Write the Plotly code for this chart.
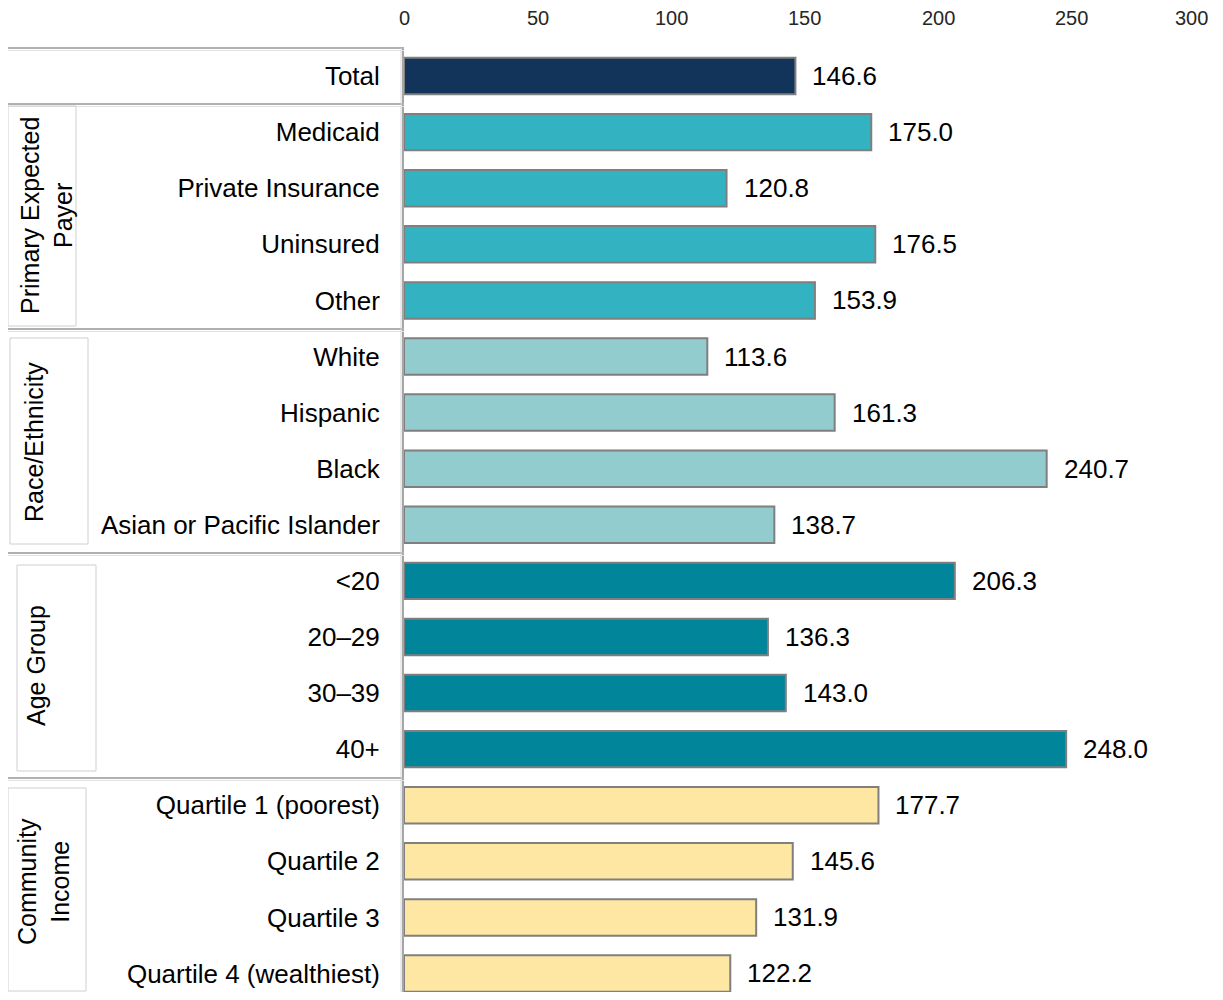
import plotly.graph_objects as go

# ---- data ----
categories = ["Total",
              "Medicaid", "Private Insurance", "Uninsured", "Other",
              "White", "Hispanic", "Black", "Asian or Pacific Islander",
              "<20", "20–29", "30–39", "40+",
              "Quartile 1 (poorest)", "Quartile 2", "Quartile 3", "Quartile 4 (wealthiest)"]
values = [146.6,
          175.0, 120.8, 176.5, 153.9,
          113.6, 161.3, 240.7, 138.7,
          206.3, 136.3, 143.0, 248.0,
          177.7, 145.6, 131.9, 122.2]
groups = ["Total",
          "Payer", "Payer", "Payer", "Payer",
          "Race", "Race", "Race", "Race",
          "Age", "Age", "Age", "Age",
          "Income", "Income", "Income", "Income"]
group_labels = {"Payer": "Primary Expected<br>Payer",
                "Race": "Race/Ethnicity",
                "Age": "Age Group",
                "Income": "Community<br>Income"}
x_ticks = [0, 50, 100, 150, 200, 250, 300]

group_colors = {"Total": "#12335a", "Payer": "#33b2c1", "Race": "#93cccf",
                "Age": "#00859b", "Income": "#fee6a3"}

# page body has an 8px margin; work in page pixels and convert
OFF = 8
W, H = 1223 - OFF, 1000 - 2 * OFF
L, R, T, B = 404 - OFF, 18, 48 - OFF, 0
PW, PH = W - L - R, H - T - B


def px(x):
    return (x - OFF - L) / PW


def py(y):
    return 1 - (y - OFF - T) / PH


FONT = "Liberation Sans, Arial, sans-serif"
TICKFONT = dict(family=FONT, size=20, color="#262626")

fig = go.Figure()
fig.add_trace(go.Bar(
    x=values, y=categories, orientation="h",
    marker=dict(color=[group_colors[g] for g in groups],
                line=dict(color="#7f7f7f", width=2)),
    width=0.65, showlegend=False, hoverinfo="x+y",
))

annotations = []
for c, v in zip(categories, values):
    annotations.append(dict(x=v, y=c, xref="x", yref="y", text=f"{v:.1f}",
                            showarrow=False, xanchor="left", xshift=15,
                            font=dict(family=FONT, size=26, color="#000000")))

# top axis tick labels placed on the x scale (last one kept inside the page edge)
for t in x_ticks:
    last = t == x_ticks[-1]
    annotations.append(dict(x=t, y=py(18), xref="x", yref="paper",
                            text=str(t), showarrow=False,
                            xanchor="right" if last else "center",
                            xshift=5 if last else 0,
                            yanchor="middle", font=TICKFONT))

# group label positions (page pixel centres)
label_pos = {"Payer": (47, 216), "Race": (34, 442), "Age": (36, 666), "Income": (43, 882)}
for g, (cx, cy) in label_pos.items():
    annotations.append(dict(x=px(cx), y=py(cy), xref="paper", yref="paper",
                            text=group_labels[g], showarrow=False, textangle=-90,
                            xanchor="center", yanchor="middle",
                            font=dict(family=FONT, size=25, color="#000000")))

shapes = []
# separator lines
for yy in [48, 104, 329, 553, 778]:
    shapes.append(dict(type="line", xref="paper", yref="paper",
                       x0=px(7), x1=px(404), y0=py(yy), y1=py(yy),
                       line=dict(color="#b0b0b0", width=2)))
    shapes.append(dict(type="line", xref="paper", yref="paper",
                       x0=px(7), x1=px(404), y0=py(yy + 2.5), y1=py(yy + 2.5),
                       line=dict(color="#e2e2e2", width=1)))
# right edge of the label panel
shapes.append(dict(type="line", xref="paper", yref="paper",
                   x0=px(401), x1=px(401), y0=py(48), y1=py(992),
                   line=dict(color="#d6d6d6", width=1)))
# inner group label boxes
for (x0, x1, y0, y1) in [(8, 76, 106, 326), (10, 88, 338, 544),
                         (17, 96, 565, 771), (8, 86, 788, 991)]:
    shapes.append(dict(type="rect", xref="paper", yref="paper",
                       x0=px(x0), x1=px(x1), y0=py(y0), y1=py(y1),
                       line=dict(color="#cfcfcf", width=1), fillcolor="rgba(0,0,0,0)"))

fig.update_layout(
    width=W, height=H,
    margin=dict(l=L, r=R, t=T, b=B),
    paper_bgcolor="white", plot_bgcolor="white",
    annotations=annotations,
    shapes=shapes,
    xaxis=dict(side="top", range=[0, 300], tickvals=x_ticks,
               showticklabels=False,
               showgrid=False, zeroline=False, showline=False, ticks=""),
    yaxis=dict(categoryorder="array", categoryarray=categories,
               range=[16.33, -0.5], showgrid=False, zeroline=False,
               showline=True, linecolor="#a6a6a6", linewidth=2, ticks="",
               ticklabelstandoff=17,
               tickfont=dict(family=FONT, size=26, color="#000000")),
)

fig.write_html("out.html")
